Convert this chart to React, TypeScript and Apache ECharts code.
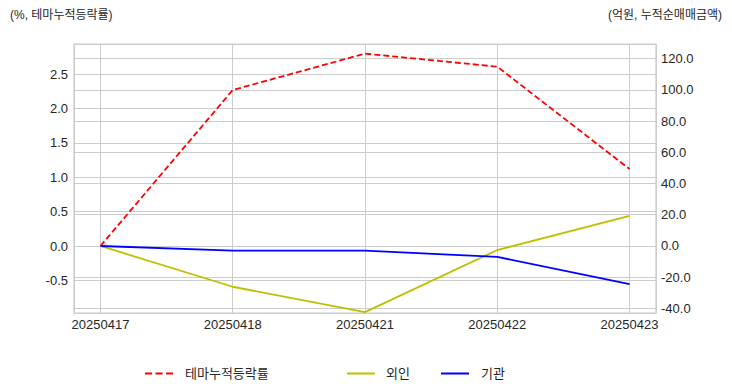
import React, { useEffect, useRef } from "react";
import * as echarts from "echarts";

const categories = ["20250417", "20250418", "20250421", "20250422", "20250423"];
const themeReturn = [0.0, 2.27, 2.8, 2.61, 1.12];
const foreignNet = [0.0, -26.1, -42.3, -2.6, 19.2];
const institutionNet = [0.0, -3.0, -3.0, -7.0, -24.4];

const leftAxisName = "(%, 테마누적등락률)";
const rightAxisName = "(억원, 누적순매매금액)";
const seriesNames = ["테마누적등락률", "외인", "기관"];

const FONT = "'Liberation Sans', Arial, 'Noto Sans CJK KR', sans-serif";
const GRID_COLOR = "#cccccc";
const TEXT_COLOR = "#262626";

const DASH_ICON = "path://M0,0h7v2h-7z M10.5,0h7v2h-7z M21,0h7v2h-7z";
const SOLID_ICON = "path://M0,0h28v2h-28z";

const near = (v: number, step: number) => Math.abs(v / step - Math.round(v / step)) < 1e-6;

export default function App() {
  const ref = useRef<HTMLDivElement>(null);
  useEffect(() => {
    if (!ref.current) return;
    const chart = echarts.init(ref.current, undefined, { renderer: "svg" });
    const toPairs = (arr: number[]) => arr.map((v, i) => [i, v]);
    const legendBase = {
      top: 362,
      itemWidth: 28,
      itemHeight: 2,
      height: 14,
    };
    chart.setOption({
      animation: false,
      backgroundColor: "#ffffff",
      textStyle: { fontFamily: FONT },
      grid: {
        left: 74,
        right: 76,
        top: 44,
        bottom: 79,
        show: true,
        borderColor: GRID_COLOR,
        borderWidth: 1.25,
        backgroundColor: "transparent",
      },
      xAxis: {
        type: "value",
        min: -0.2,
        max: 4.2,
        minInterval: 1,
        maxInterval: 1,
        axisLine: { show: false },
        axisTick: { show: false },
        splitLine: { show: true, lineStyle: { color: GRID_COLOR, width: 1 } },
        axisLabel: {
          color: TEXT_COLOR,
          fontSize: 13,
          fontFamily: FONT,
          margin: 5,
          showMinLabel: true,
          showMaxLabel: true,
          formatter: (v: number) => (near(v, 1) && v >= 0 && v < categories.length ? categories[Math.round(v)] : ""),
        },
      },
      yAxis: [
        {
          type: "value",
          position: "left",
          min: -0.975,
          max: 2.94,
          minInterval: 0.5,
          maxInterval: 0.5,
          axisLine: { show: false },
          axisTick: { show: false },
          splitLine: { show: true, lineStyle: { color: GRID_COLOR, width: 1 } },
          axisLabel: {
            color: TEXT_COLOR,
            fontSize: 13,
            fontFamily: FONT,
            margin: 6,
            formatter: (v: number) => (near(v, 0.5) ? v.toFixed(1) : ""),
          },
        },
        {
          type: "value",
          position: "right",
          min: -42.9,
          max: 129.3,
          minInterval: 20,
          maxInterval: 20,
          axisLine: { show: false },
          axisTick: { show: false },
          splitLine: { show: true, lineStyle: { color: GRID_COLOR, width: 1 } },
          axisLabel: {
            color: TEXT_COLOR,
            fontSize: 13,
            fontFamily: FONT,
            margin: 5,
            formatter: (v: number) => (near(v, 20) ? v.toFixed(1) : ""),
          },
        },
      ],
      legend: [
        {
          ...legendBase,
          left: 140,
          data: [{ name: seriesNames[0], icon: DASH_ICON, itemStyle: { color: "#ff0000" } }],
          textStyle: { color: TEXT_COLOR, fontSize: 13, fontFamily: FONT, padding: [0, 0, 0, 7] },
        },
        {
          ...legendBase,
          left: 342,
          data: [{ name: seriesNames[1], icon: SOLID_ICON, itemStyle: { color: "#bfbf00" } }],
          textStyle: { color: TEXT_COLOR, fontSize: 13, fontFamily: FONT, padding: [0, 0, 0, 6] },
        },
        {
          ...legendBase,
          left: 436,
          data: [{ name: seriesNames[2], icon: SOLID_ICON, itemStyle: { color: "#0000ff" } }],
          textStyle: { color: TEXT_COLOR, fontSize: 13, fontFamily: FONT, padding: [0, 0, 0, 7] },
        },
      ],
      graphic: [
        {
          type: "text",
          left: 10,
          top: 9,
          style: { text: leftAxisName, fill: TEXT_COLOR, font: `12px ${FONT}` },
        },
        {
          type: "text",
          right: 10,
          top: 9,
          style: { text: rightAxisName, fill: TEXT_COLOR, font: `12px ${FONT}` },
        },
      ],
      series: [
        {
          name: seriesNames[0],
          type: "line",
          yAxisIndex: 0,
          data: toPairs(themeReturn),
          symbol: "none",
          showSymbol: false,
          lineStyle: { color: "#ff0000", width: 1.8, type: [6, 3] },
          itemStyle: { color: "#ff0000" },
          z: 4,
        },
        {
          name: seriesNames[1],
          type: "line",
          yAxisIndex: 1,
          data: toPairs(foreignNet),
          symbol: "none",
          showSymbol: false,
          lineStyle: { color: "#bfbf00", width: 1.8 },
          itemStyle: { color: "#bfbf00" },
          z: 3,
        },
        {
          name: seriesNames[2],
          type: "line",
          yAxisIndex: 1,
          data: toPairs(institutionNet),
          symbol: "none",
          showSymbol: false,
          lineStyle: { color: "#0000ff", width: 1.8 },
          itemStyle: { color: "#0000ff" },
          z: 3,
        },
      ],
    });
    return () => chart.dispose();
  }, []);
  return <div ref={ref} style={{ width: 732, height: 392, position: "fixed", left: 0, top: 0 }} />;
}
